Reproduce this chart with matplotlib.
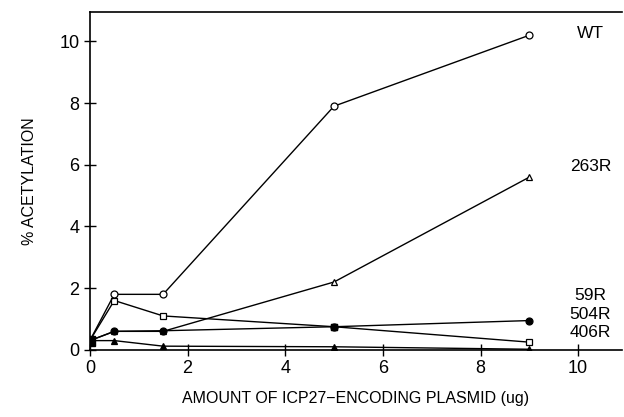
import matplotlib
matplotlib.use('Agg')
import matplotlib.pyplot as plt

plt.rcParams['font.family'] = ['Liberation Sans', 'DejaVu Sans']

# 데이터
dose = [0, 0.5, 1.5, 5, 9]
wt = [0.3, 1.8, 1.8, 7.9, 10.2]
r263 = [0.3, 0.6, 0.6, 2.2, 5.6]
r59 = [0.3, 0.6, 0.62, 0.75, 0.95]
r504 = [0.3, 1.6, 1.1, 0.75, 0.25]
r406 = [0.3, 0.3, 0.12, 0.1, 0.02]

labels = ['WT', '263R', '59R', '504R', '406R']
label_y = [10.25, 5.95, 1.75, 1.15, 0.55]

fig = plt.figure(figsize=(6.24, 4.17), dpi=100)
ax = fig.add_axes([0.144, 0.161, 0.853, 0.81])

kw = dict(color='black', lw=1.0, ms=5, mew=0.9)
ax.plot(dose, r406, marker='^', mfc='black', **kw)
ax.plot(dose, r504, marker='s', mfc='white', **kw)
ax.plot(dose, r263, marker='^', mfc='white', **kw)
ax.plot(dose, r59, marker='o', mfc='black', **kw)
ax.plot(dose, wt, marker='o', mfc='white', **kw)
ax.plot([0], [0.3], marker='s', color='black', ms=7)
ax.plot([5], [0.75], marker='s', color='black', ms=5)

for lab, yy in zip(labels, label_y):
    ax.text(10.25, yy, lab, fontsize=12.5, ha='center', va='center')

ax.set_xlim(0, 10.9)
ax.set_ylim(0, 10.95)
ax.set_xticks([0, 2, 4, 6, 8, 10])
ax.set_yticks([0, 2, 4, 6, 8, 10])
ax.tick_params(direction='inout', length=8, width=1, labelsize=13)
ax.spines['right'].set_visible(False)
for s in ['left', 'bottom', 'top']:
    ax.spines[s].set_linewidth(1.2)

ax.set_xlabel('AMOUNT OF ICP27\u2212ENCODING PLASMID (ug)', fontsize=11.5, labelpad=10)
ax.set_ylabel('% ACETYLATION', fontsize=11.5, labelpad=16)

fig.savefig('out.png', dpi=100)
